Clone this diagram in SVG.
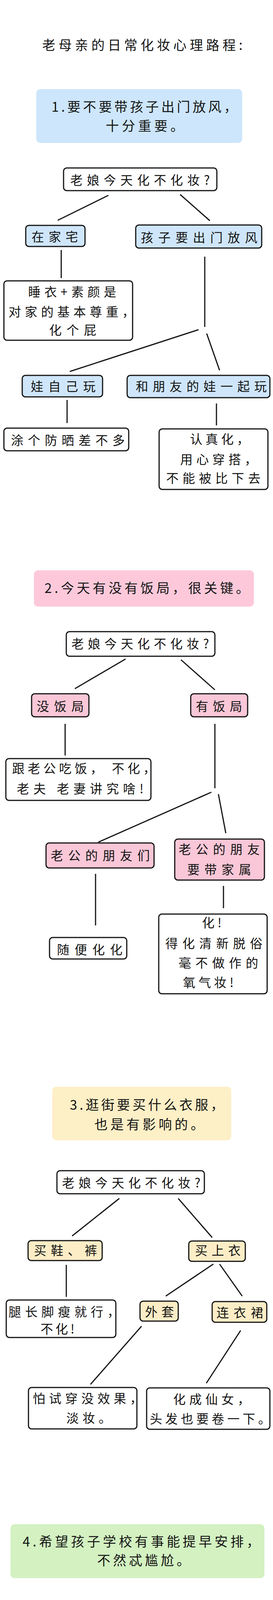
<svg xmlns="http://www.w3.org/2000/svg" width="700" height="6465" viewBox="0 0 700 6465">
<style>
.t{font-family:"Noto Sans CJK SC","Noto Sans",sans-serif;font-size:32px;fill:#141414}
.h{font-size:34px}
.b{stroke:#141414;stroke-width:3}
.w{fill:#ffffff}
.blue{fill:#cfe6fa}
.pink{fill:#f9c7d7}
.yel{fill:#fcedc6}
.grn{fill:#cff0bd}
.pur{fill:#f9c9ee}
.hb1{fill:#cde6fb}
.hb2{fill:#fdc9da}
.hb3{fill:#fdefc6}
.hb4{fill:#d3f1c1}
.hb5{fill:#fccdee}
#edges line{stroke:#141414;stroke-width:3}
</style>
<rect width="700" height="6465" fill="#ffffff"/>
<g id="title"><text class="t h" x="108" y="128" textLength="514" lengthAdjust="spacing">老母亲的日常化妆心理路程:</text></g>

<g id="edges">
<line x1="278" y1="500" x2="148" y2="564"/>
<line x1="462" y1="498" x2="538" y2="565"/>
<line x1="157" y1="640" x2="157" y2="712"/>
<line x1="525" y1="657" x2="525" y2="837"/>
<line x1="509" y1="844" x2="179" y2="951"/>
<line x1="530" y1="854" x2="563" y2="948"/>
<line x1="172" y1="1024" x2="172" y2="1083"/>
<line x1="555" y1="1033" x2="555" y2="1089"/>
<line x1="322" y1="1687" x2="192" y2="1763"/>
<line x1="464" y1="1689" x2="551" y2="1766"/>
<line x1="167" y1="1853" x2="167" y2="1934"/>
<line x1="551" y1="1853" x2="551" y2="2018"/>
<line x1="542" y1="2028" x2="252" y2="2156"/>
<line x1="560" y1="2033" x2="579" y2="2133"/>
<line x1="245" y1="2237" x2="245" y2="2369"/>
<line x1="573" y1="2268" x2="573" y2="2325"/>
<line x1="306" y1="3068" x2="185" y2="3164"/>
<line x1="457" y1="3068" x2="544" y2="3168"/>
<line x1="170" y1="3238" x2="170" y2="3320"/>
<line x1="547" y1="3236" x2="425" y2="3318"/>
<line x1="563" y1="3236" x2="621" y2="3318"/>
<line x1="363" y1="3395" x2="232" y2="3544"/>
<line x1="617" y1="3406" x2="529" y2="3541"/>
<line x1="316" y1="4180" x2="197" y2="4274"/>
<line x1="467" y1="4183" x2="539" y2="4284"/>
<line x1="186" y1="4364" x2="186" y2="4486"/>
<line x1="551" y1="4362" x2="551" y2="4574"/>
<line x1="539" y1="4576" x2="249" y2="4709"/>
<line x1="551" y1="4586" x2="577" y2="4706"/>
<line x1="230" y1="4791" x2="230" y2="4872"/>
<line x1="571" y1="4788" x2="571" y2="4881"/>
<line x1="296" y1="5588" x2="186" y2="5679"/>
<line x1="437" y1="5594" x2="511" y2="5682"/>
<line x1="157" y1="5761" x2="157" y2="5838"/>
<line x1="520" y1="5772" x2="520" y2="5938"/>
<line x1="499" y1="5947" x2="291" y2="6044"/>
<line x1="525" y1="5952" x2="585" y2="6041"/>
<line x1="274" y1="6114" x2="274" y2="6199"/>
<line x1="593" y1="6112" x2="593" y2="6195"/>
</g>

<!-- Section 1 -->
<g id="hdr1"><rect class="hb1" x="93" y="228" width="528" height="138" rx="10"/>
<text class="t h" x="132" y="286" textLength="476" lengthAdjust="spacing">1.要不要带孩子出门放风，</text>
<text class="t h" x="271" y="335" textLength="200" lengthAdjust="spacing">十分重要。</text></g>
<g id="q1"><rect class="w b" x="163" y="430" width="393" height="58" rx="8"/>
<text class="t" x="180" y="473" textLength="358" lengthAdjust="spacing">老娘今天化不化妆?</text></g>
<g id="n1a"><rect class="blue b" x="66" y="577" width="152" height="54" rx="8"/>
<text class="t" x="81" y="618" textLength="119" lengthAdjust="spacing">在家宅</text></g>
<g id="n1b"><rect class="blue b" x="348" y="576" width="323" height="59" rx="8"/>
<text class="t" x="361" y="620" textLength="299" lengthAdjust="spacing">孩子要出门放风</text></g>
<g id="r1a"><rect class="w b" x="10" y="719" width="330" height="152" rx="8"/>
<text class="t" x="72" y="759" textLength="226" lengthAdjust="spacing">睡衣+素颜是</text>
<text class="t" x="22" y="810" textLength="323" lengthAdjust="spacing">对家的基本尊重，</text>
<text class="t" x="126" y="857" textLength="121" lengthAdjust="spacing">化个屁</text></g>
<g id="n1c"><rect class="blue b" x="57" y="961" width="206" height="55" rx="8"/>
<text class="t" x="79" y="1001" textLength="166" lengthAdjust="spacing">娃自己玩</text></g>
<g id="n1d"><rect class="blue b" x="326" y="961" width="366" height="57" rx="8"/>
<text class="t" x="348" y="1001" textLength="336" lengthAdjust="spacing">和朋友的娃一起玩</text></g>
<g id="r1c"><rect class="w b" x="10" y="1096" width="320" height="58" rx="8"/>
<text class="t" x="28" y="1139" textLength="292" lengthAdjust="spacing">涂个防晒差不多</text></g>
<g id="r1d"><rect class="w b" x="408" y="1098" width="279" height="155" rx="8"/>
<text class="t" x="487" y="1136" textLength="152" lengthAdjust="spacing">认真化，</text>
<text class="t" x="462" y="1188" textLength="197" lengthAdjust="spacing">用心穿搭，</text>
<text class="t" x="426" y="1236" textLength="242" lengthAdjust="spacing">不能被比下去</text></g>

<!-- Section 2 -->
<g id="hdr2"><rect class="hb2" x="87" y="1460" width="564" height="93" rx="10"/>
<text class="t h" x="114" y="1518" textLength="525" lengthAdjust="spacing">2.今天有没有饭局，很关键。</text></g>
<g id="q2"><rect class="w b" x="170" y="1617" width="381" height="63" rx="8"/>
<text class="t" x="183" y="1660" textLength="353" lengthAdjust="spacing">老娘今天化不化妆?</text></g>
<g id="n2a"><rect class="pink b" x="81" y="1776" width="147" height="59" rx="8"/>
<text class="t" x="94" y="1820" textLength="121" lengthAdjust="spacing">没饭局</text></g>
<g id="n2b"><rect class="pink b" x="489" y="1776" width="146" height="59" rx="8"/>
<text class="t" x="502" y="1820" textLength="119" lengthAdjust="spacing">有饭局</text></g>
<g id="r2a"><rect class="w b" x="15" y="1942" width="372" height="107" rx="8"/>
<text class="t" x="31" y="1979" textLength="368" lengthAdjust="spacing">跟老公吃饭， 不化，</text>
<text class="t" x="43" y="2031" textLength="325" lengthAdjust="spacing">老夫 老妻讲究啥!</text></g>
<g id="n2c"><rect class="pink b" x="118" y="2158" width="277" height="64" rx="8"/>
<text class="t" x="130" y="2202" textLength="254" lengthAdjust="spacing">老公的朋友们</text></g>
<g id="n2d"><rect class="pink b" x="448" y="2148" width="230" height="105" rx="8"/>
<text class="t" x="458" y="2186" textLength="208" lengthAdjust="spacing">老公的朋友</text>
<text class="t" x="480" y="2238" textLength="164" lengthAdjust="spacing">要带家属</text></g>
<g id="r2c"><rect class="w b" x="127" y="2400" width="198" height="55" rx="8"/>
<text class="t" x="146" y="2443" textLength="168" lengthAdjust="spacing">随便化化</text></g>
<g id="r2d"><rect class="w b" x="407" y="2340" width="278" height="204" rx="8"/>
<text class="t" x="518" y="2374" textLength="50" lengthAdjust="spacing">化!</text>
<text class="t" x="424" y="2427" textLength="249" lengthAdjust="spacing">得化清新脱俗</text>
<text class="t" x="458" y="2477" textLength="204" lengthAdjust="spacing">毫不做作的</text>
<text class="t" x="469" y="2527" textLength="130" lengthAdjust="spacing">氧气妆!</text></g>

<!-- Section 3 -->
<g id="hdr3"><rect class="hb3" x="134" y="2782" width="459" height="137" rx="10"/>
<text class="t h" x="179" y="2841" textLength="395" lengthAdjust="spacing">3.逛街要买什么衣服，</text>
<text class="t h" x="242" y="2891" textLength="281" lengthAdjust="spacing">也是有影响的。</text></g>
<g id="q3"><rect class="w b" x="146" y="2997" width="378" height="59" rx="8"/>
<text class="t" x="159" y="3040" textLength="355" lengthAdjust="spacing">老娘今天化不化妆?</text></g>
<g id="n3a"><rect class="yel b" x="72" y="3176" width="190" height="51" rx="8"/>
<text class="t" x="87" y="3213" textLength="162" lengthAdjust="spacing">买鞋、裤</text></g>
<g id="n3b"><rect class="yel b" x="484" y="3177" width="145" height="52" rx="8"/>
<text class="t" x="500" y="3213" textLength="117" lengthAdjust="spacing">买上衣</text></g>
<g id="r3a"><rect class="w b" x="16" y="3328" width="281" height="96" rx="8"/>
<text class="t" x="22" y="3370" textLength="285" lengthAdjust="spacing">腿长脚瘦就行，</text>
<text class="t" x="104" y="3414" textLength="87" lengthAdjust="spacing">不化!</text></g>
<g id="n3c"><rect class="yel b" x="359" y="3331" width="98" height="51" rx="8"/>
<text class="t" x="372" y="3370" textLength="74" lengthAdjust="spacing">外套</text></g>
<g id="n3d"><rect class="yel b" x="544" y="3332" width="140" height="53" rx="8"/>
<text class="t" x="555" y="3372" textLength="120" lengthAdjust="spacing">连衣裙</text></g>
<g id="r3c"><rect class="w b" x="73" y="3552" width="278" height="106" rx="8"/>
<text class="t" x="84" y="3592" textLength="281" lengthAdjust="spacing">怕试穿没效果，</text>
<text class="t" x="170" y="3642" textLength="115" lengthAdjust="spacing">淡妆。</text></g>
<g id="r3d"><rect class="w b" x="376" y="3553" width="316" height="106" rx="8"/>
<text class="t" x="444" y="3594" textLength="197" lengthAdjust="spacing">化成仙女，</text>
<text class="t" x="384" y="3644" textLength="310" lengthAdjust="spacing">头发也要卷一下。</text></g>

<!-- Section 4 -->
<g id="hdr4"><rect class="hb4" x="27" y="3902" width="651" height="138" rx="10"/>
<text class="t h" x="58" y="3959" textLength="608" lengthAdjust="spacing">4.希望孩子学校有事能提早安排，</text>
<text class="t h" x="249" y="4007" textLength="238" lengthAdjust="spacing">不然忒尴尬。</text></g>
<g id="q4"><rect class="w b" x="180" y="4115" width="376" height="58" rx="8"/>
<text class="t" x="191" y="4158" textLength="354" lengthAdjust="spacing">老娘今天化不化妆?</text></g>
<g id="n4a"><rect class="grn b" x="85" y="4290" width="225" height="61" rx="8"/>
<text class="t" x="96" y="4334" textLength="200" lengthAdjust="spacing">普通的一天</text></g>
<g id="n4b"><rect class="grn b" x="486" y="4295" width="149" height="51" rx="8"/>
<text class="t" x="503" y="4333" textLength="121" lengthAdjust="spacing">要开会</text></g>
<g id="r4a"><rect class="w b" x="48" y="4497" width="284" height="106" rx="8"/>
<text class="t" x="61" y="4537" textLength="282" lengthAdjust="spacing">接到孩子就走，</text>
<text class="t" x="143" y="4585" textLength="108" lengthAdjust="spacing">不化。</text></g>
<g id="n4c"><rect class="grn b" x="130" y="4717" width="183" height="57" rx="8"/>
<text class="t" x="143" y="4760" textLength="162" lengthAdjust="spacing">操场大会</text></g>
<g id="n4d"><rect class="grn b" x="396" y="4720" width="276" height="54" rx="8"/>
<text class="t" x="411" y="4760" textLength="249" lengthAdjust="spacing">班级亲子活动</text></g>
<g id="r4c"><rect class="w b" x="17" y="4886" width="361" height="160" rx="8"/>
<text class="t" x="28" y="4925" textLength="338" lengthAdjust="spacing">画个眉、涂个口红</text>
<text class="t" x="29" y="4976" textLength="337" lengthAdjust="spacing">算是很尊重这个操</text>
<text class="t" x="134" y="5027" textLength="117" lengthAdjust="spacing">场了。</text></g>
<g id="r4d"><rect class="w b" x="387" y="4889" width="304" height="158" rx="8"/>
<text class="t" x="467" y="4930" textLength="166" lengthAdjust="spacing">孩子不要</text>
<text class="t" x="437" y="4980" textLength="182" lengthAdjust="spacing">面子的吗?</text>
<text class="t" x="393" y="5030" textLength="289" lengthAdjust="spacing">化成最美老母亲</text></g>

<!-- Section 5 -->
<g id="hdr5"><rect class="hb5" x="146" y="5308" width="418" height="135" rx="10"/>
<text class="t h" x="193" y="5366" textLength="350" lengthAdjust="spacing">5.今天睡不睡午觉，</text>
<text class="t h" x="236" y="5411" textLength="280" lengthAdjust="spacing">也是有关系的。</text></g>
<g id="q5"><rect class="w b" x="153" y="5523" width="383" height="59" rx="8"/>
<text class="t" x="167" y="5567" textLength="356" lengthAdjust="spacing">老娘今天化不化妆?</text></g>
<g id="n5a"><rect class="pur b" x="81" y="5694" width="151" height="54" rx="8"/>
<text class="t" x="94" y="5733" textLength="125" lengthAdjust="spacing">睡午觉</text></g>
<g id="n5b"><rect class="pur b" x="436" y="5694" width="182" height="56" rx="8"/>
<text class="t" x="446" y="5733" textLength="160" lengthAdjust="spacing">不睡午觉</text></g>
<g id="r5a"><rect class="w b" x="16" y="5845" width="369" height="99" rx="8"/>
<text class="t" x="27" y="5883" textLength="368" lengthAdjust="spacing">化了妆不好睡午觉，</text>
<text class="t" x="150" y="5932" textLength="110" lengthAdjust="spacing">不化。</text></g>
<g id="n5c"><rect class="pur b" x="226" y="6050" width="93" height="54" rx="8"/>
<text class="t" x="233" y="6092" textLength="79" lengthAdjust="spacing">有约</text></g>
<g id="n5d"><rect class="pur b" x="544" y="6050" width="93" height="54" rx="8"/>
<text class="t" x="552" y="6092" textLength="81" lengthAdjust="spacing">没约</text></g>
<g id="r5c"><rect class="w b" x="156" y="6208" width="204" height="104" rx="8"/>
<text class="t" x="173" y="6247" textLength="197" lengthAdjust="spacing">时间充足，</text>
<text class="t" x="183" y="6296" textLength="149" lengthAdjust="spacing">慢慢化。</text></g>
<g id="r5d"><rect class="w b" x="422" y="6208" width="273" height="104" rx="8"/>
<text class="t" x="428" y="6248" textLength="279" lengthAdjust="spacing">头都可以不洗，</text>
<text class="t" x="503" y="6296" textLength="141" lengthAdjust="spacing">还化妆?</text></g>
</svg>
